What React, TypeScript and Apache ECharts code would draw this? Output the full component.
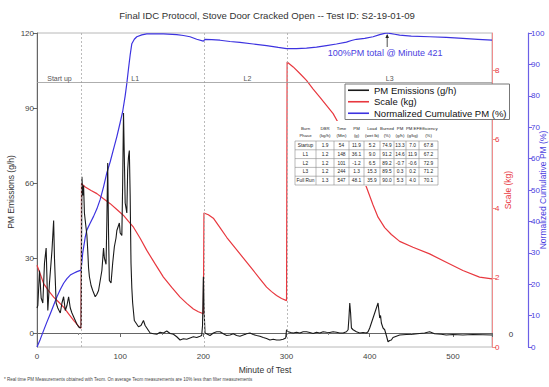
import React, { useEffect, useRef } from "react";
import * as echarts from "echarts";

const FONT = "'Liberation Sans', Arial, sans-serif";

const titleText = "Final IDC Protocol, Stove Door Cracked Open -- Test ID: S2-19-01-09";
const xAxisName = "Minute of Test";
const leftAxisName = "PM Emissions (g/h)";
const redAxisName = "Scale (kg)";
const blueAxisName = "Normalized Cumulative PM (%)";
const footnote =
  "* Real time PM Measurements obtained with Teom. On average Teom measurements are 10% less than filter measurements";
const annotationText = "100%PM total @ Minute 421";
const annotationPoint = [421, 100];

const seriesNames = ["PM Emissions (g/h)", "Scale (kg)", "Normalized Cumulative PM (%)"];

// phase boundaries (minutes) and labels
const phaseBounds = [53, 201, 301];
const phaseLabels = ["Start up", "L1", "L2", "L3"];
const phaseLabelMinutes = [27, 118, 253, 424];
const phaseLineValue = 100.4;

// PM emissions (g/h) [minute, value]
const pmSeries = [
  [0, 10], [1, 11], [3, 25], [5, 14], [7, 12], [9, 28], [11, 34], [13, 9], [15, 20], [18, 33], [20, 45],
  [21, 30], [23, 12], [25, 10], [28, 8], [30, 12], [32, 14.5], [34, 9], [36, 11], [38, 14.5], [40, 10],
  [42, 8], [44, 6.5], [46, 5], [48, 3.5], [50, 2.5], [52, 2], [53, 2.5], [54, 62.5], [55, 55], [56, 59],
  [57, 48], [58, 45], [59, 42], [60, 39], [61, 33], [62, 26], [63, 22.5], [65, 19], [67, 17], [70, 14.5],
  [72, 15.5], [74, 17], [76, 21], [78, 25], [80, 34], [81, 30], [83, 27.5], [84, 45], [85, 68], [86, 40],
  [87, 21], [89, 20], [91, 28], [93, 34.5], [95, 38], [96, 41], [98, 43], [99, 44], [100, 40], [102, 39],
  [103, 60], [104, 88], [105, 70], [106, 52], [107, 50], [108, 48], [109, 65], [110, 70.5], [111, 73],
  [112, 55], [113, 28], [114, 18], [115, 12], [117, 5], [119, 4], [122, 2.5], [125, 3], [128, 5], [130, 3],
  [132, 2], [134, 1], [136, 0], [140, -0.3], [144, -0.5], [148, 0.3], [152, 0], [156, 0.8], [160, -0.2],
  [164, -0.5], [168, -1.5], [172, -2.8], [176, -2.3], [180, -2.5], [184, -2], [188, -1.5], [192, -1.8],
  [196, -1.3], [198, -1], [199, 3], [200, 22.5], [201, 8], [202, 0], [205, -0.5], [208, -1], [212, 0],
  [216, 0.5], [220, 0.5], [224, -0.3], [228, -1], [232, -0.8], [236, -0.3], [240, -1], [244, -1.3],
  [248, -0.8], [252, -0.3], [256, 0], [260, -0.6], [264, -1], [268, -1.3], [272, -1.8], [276, -2.2],
  [280, -2.8], [284, -2.5], [288, -2.8], [292, -2.8], [296, -2.5], [299, -2], [300, 1.3], [302, 0.5],
  [305, 0.2], [308, 0], [312, 0.3], [316, 0], [320, 0.5], [324, 0.5], [328, 0.2], [332, -0.2], [336, 0.3],
  [340, 0], [344, 0.5], [348, 0.3], [352, 0.2], [356, 0.5], [360, 0.3], [364, 0], [368, 0], [372, 0.5],
  [374, 1.3], [375, 6], [376, 12], [377, 8], [378, 2], [380, 1.3], [384, 0.5], [388, 0], [392, 0.2],
  [396, 0], [398, 0.5], [400, 2], [402, 4], [404, 6], [406, 8], [408, 10], [410, 12], [411, 9], [412, 6],
  [413, 7], [414, 4], [416, 2], [418, 1.3], [420, -1], [422, -3.5], [424, -3], [426, -2.8], [428, -1.8],
  [432, -1.3], [436, -0.8], [444, -0.6], [452, -0.5], [460, -0.2], [466, 0], [472, 0.5], [478, -0.3],
  [486, -0.5], [492, -0.8], [500, -0.6], [512, -0.8], [524, -0.6], [536, -0.7], [547, -0.8],
];

// Scale (kg) [minute, value]
const scaleSeries = [
  [0, 2.36], [4, 2.1], [8, 1.83], [14, 1.62], [20, 1.44], [26, 1.3], [32, 1.15], [38, 0.96], [44, 0.77],
  [48, 0.66], [51, 0.57], [53, 0.55], [53.5, 4.72], [58, 4.62], [65, 4.52], [72, 4.43], [80, 4.28],
  [88, 4.14], [96, 3.97], [104, 3.8], [110, 3.63], [116, 3.46], [124, 3.14], [132, 2.79], [142, 2.4],
  [152, 2.02], [162, 1.72], [172, 1.44], [180, 1.26], [188, 1.1], [194, 1.02], [200, 0.96], [200.7, 3.87],
  [206, 3.82], [212, 3.72], [220, 3.45], [228, 3.17], [236, 2.93], [244, 2.69], [252, 2.45], [260, 2.21],
  [268, 1.97], [276, 1.73], [282, 1.6], [288, 1.49], [294, 1.4], [300, 1.34], [300.7, 8.23], [308, 8.09],
  [316, 7.9], [324, 7.7], [332, 7.45], [340, 7.22], [348, 6.98], [356, 6.74], [364, 6.4], [372, 6.0],
  [380, 5.5], [388, 5.05], [396, 4.62], [404, 4.1], [410, 3.75], [418, 3.45], [426, 3.25], [436, 3.05],
  [452, 2.88], [472, 2.69], [492, 2.45], [512, 2.21], [532, 2.02], [547, 1.97],
];

// Normalized cumulative PM (%) [minute, value]
const cumSeries = [
  [0, 0], [4, 2.5], [8, 5.3], [12, 8], [16, 10.6], [20, 13.3], [24, 16], [28, 18.3], [32, 20.3], [36, 21.8],
  [40, 22.9], [44, 23.5], [48, 24], [53, 24.5], [55, 30], [58, 35], [60, 37.3], [64, 39.5], [68, 41.6],
  [72, 44], [76, 47], [80, 51], [84, 55.5], [88, 59], [92, 63], [96, 67], [100, 71.5], [103, 75], [106, 80],
  [108, 84], [110, 88.6], [112, 93], [114, 96.6], [117, 98], [120, 98.8], [126, 99.4], [132, 99.7],
  [152, 99.7], [168, 99.5], [176, 99.2], [184, 98.8], [192, 98], [200, 97.4], [202, 98], [210, 97.9],
  [220, 97.7], [232, 97.3], [244, 97], [260, 96.5], [276, 96], [290, 95.4], [300, 95], [312, 95],
  [324, 95.2], [336, 95.5], [348, 96], [360, 96.5], [372, 97.1], [378, 97.6], [384, 98], [394, 98.3],
  [404, 98.8], [412, 99.5], [418, 99.9], [421, 100], [424, 99.9], [430, 99.6], [436, 99.3], [450, 99],
  [472, 98.8], [492, 98.6], [512, 98.3], [530, 98], [547, 97.7],
];

// summary table
const tableHeaderTop = ["Burn", "DBR", "Time", "PM", "Load", "Burned", "PM", "PM EF", "Efficiency"];
const tableHeaderBottom = ["Phase", "(kg/h)", "(Min)", "(g)", "(wet lb)", "(%)", "(g/h)", "(g/kg)", "(%)"];
const tableRows = [
  ["Startup", "1.9", "54", "11.9", "5.2", "74.9", "13.3", "7.0", "67.8"],
  ["L1", "1.2", "148", "36.1", "9.0", "91.2", "14.6", "11.9", "67.2"],
  ["L2", "1.2", "101", "-1.2", "6.5", "89.2", "-0.7", "-0.6", "72.9"],
  ["L3", "1.2", "244", "1.3", "15.3", "89.5", "0.3", "0.2", "71.2"],
  ["Full Run", "1.3", "547", "48.1", "35.9", "90.0", "5.3", "4.0", "70.1"],
];

const BLACK = "#1a1a1a";
const RED = "#e8383f";
const BLUE = "#3d33e0";

function buildTable() {
  const colEdges = [295, 316, 334, 349, 364, 380, 394, 406, 419, 438];
  const rowTop = 141;
  const rowH = 8.8;
  const els: any[] = [];
  els.push({
    type: "rect",
    shape: { x: 292, y: 121, width: 148, height: rowTop + rowH * tableRows.length - 121 + 1 },
    style: { fill: "#fff" },
    z: 20,
  });
  for (let i = 0; i <= tableRows.length; i++) {
    const y = rowTop + i * rowH;
    els.push({
      type: "line",
      shape: { x1: colEdges[0], y1: y, x2: colEdges[colEdges.length - 1], y2: y },
      style: { stroke: "#8a8a8a", lineWidth: 0.6 },
      z: 21,
    });
  }
  colEdges.forEach((x) => {
    els.push({
      type: "line",
      shape: { x1: x, y1: rowTop, x2: x, y2: rowTop + rowH * tableRows.length },
      style: { stroke: "#8a8a8a", lineWidth: 0.6 },
      z: 21,
    });
  });
  const txt = (s: string, x: number, y: number, size: number) => ({
    type: "text",
    x,
    y,
    style: { text: s, fill: "#222", font: `${size}px ${FONT}`, align: "center", verticalAlign: "middle" },
    z: 22,
  });
  for (let c = 0; c < tableHeaderTop.length; c++) {
    const cx = (colEdges[c] + colEdges[c + 1]) / 2;
    els.push(txt(tableHeaderTop[c], cx, 128, 4.3));
    els.push(txt(tableHeaderBottom[c], cx, 135.5, 4.3));
    tableRows.forEach((row, r) => {
      els.push(txt(row[c], cx, rowTop + r * rowH + rowH / 2, 4.8));
    });
  }
  return els;
}

export default function App() {
  const ref = useRef<HTMLDivElement>(null);
  useEffect(() => {
    const chart = echarts.init(ref.current!, null, { renderer: "svg" });
    const axisLabel = { fontSize: 8, color: "#444", fontFamily: FONT };
    const option: any = {
      animation: false,
      backgroundColor: "#fff",
      textStyle: { fontFamily: FONT },
      grid: {
        left: 37,
        top: 33,
        right: 57,
        bottom: 40,
        show: true,
        borderColor: "#b8b8b8",
        borderWidth: 1,
        containLabel: false,
      },
      legend: {
        left: 345,
        top: 84,
        orient: "vertical",
        backgroundColor: "#fff",
        borderColor: "#777",
        borderWidth: 1,
        padding: [1, 3, 1, 3],
        itemGap: 1,
        itemWidth: 21,
        itemHeight: 1.6,
        icon: "rect",
        z: 10,
        textStyle: { fontSize: 9.5, color: "#111", fontFamily: FONT, lineHeight: 10.5 },
        data: seriesNames,
      },
      xAxis: {
        type: "value",
        min: 0,
        max: 547,
        interval: 100,
        axisLine: { show: true, lineStyle: { color: "#666", width: 1 } },
        axisTick: { show: true, length: 4, lineStyle: { color: "#666" } },
        minorTick: { show: true, splitNumber: 2, length: 2, lineStyle: { color: "#888" } },
        axisLabel: { ...axisLabel, showMaxLabel: false, margin: 5 },
        splitLine: { show: false },
      },
      yAxis: [
        {
          type: "value",
          position: "left",
          min: -5.6,
          max: 120,
          splitNumber: 4,
          axisLine: { show: true, lineStyle: { color: "#666", width: 1 } },
          axisTick: { show: true, length: 4, lineStyle: { color: "#666" } },
          axisLabel: { ...axisLabel, showMinLabel: false, margin: 3 },
          splitLine: { show: false },
        },
        {
          type: "value",
          position: "right",
          min: 0,
          max: 9.07,
          splitNumber: 4,
          axisLine: { show: true, lineStyle: { color: "#f08d8d", width: 1 } },
          axisTick: { show: true, length: 4, lineStyle: { color: "#f08d8d" } },
          axisLabel: { ...axisLabel, color: RED, showMaxLabel: false, margin: 3 },
          splitLine: { show: false },
        },
        {
          type: "value",
          position: "right",
          offset: 36,
          min: 0,
          max: 100,
          interval: 10,
          axisLine: { show: true, lineStyle: { color: "#6b60e6", width: 1.2 } },
          axisTick: { show: true, length: 4, lineStyle: { color: "#6b60e6" } },
          axisLabel: { ...axisLabel, color: "#4a40e0", margin: 3 },
          splitLine: { show: false },
        },
      ],
      series: [
        {
          name: seriesNames[0],
          type: "line",
          yAxisIndex: 0,
          data: pmSeries,
          symbol: "none",
          z: 4,
          lineStyle: { color: BLACK, width: 1.1 },
          itemStyle: { color: BLACK },
          markLine: {
            silent: true,
            symbol: "none",
            label: { show: false },
            lineStyle: { color: "#aaa", type: [2, 2], width: 0.8 },
            data: [
              ...phaseBounds.map((m) => ({ xAxis: m })),
              { yAxis: phaseLineValue, lineStyle: { color: "#999", type: "solid", width: 0.8 } },
            ],
          },
        },
        {
          name: seriesNames[1],
          type: "line",
          yAxisIndex: 1,
          data: scaleSeries,
          symbol: "none",
          z: 3,
          lineStyle: { color: RED, width: 1.2 },
          itemStyle: { color: RED },
        },
        {
          name: seriesNames[2],
          type: "line",
          yAxisIndex: 2,
          data: cumSeries,
          symbol: "none",
          z: 3,
          lineStyle: { color: BLUE, width: 1.2 },
          itemStyle: { color: BLUE },
        },
      ],
    };
    chart.setOption(option);

    const peak = chart.convertToPixel({ seriesIndex: 2 }, annotationPoint) as number[];
    const phaseY = (chart.convertToPixel({ seriesIndex: 0 }, [0, phaseLineValue]) as number[])[1];
    const phaseEls = phaseLabels.map((lab, i) => {
      const px = chart.convertToPixel({ seriesIndex: 0 }, [phaseLabelMinutes[i], phaseLineValue]) as number[];
      return {
        type: "text",
        x: px[0],
        y: phaseY - 4,
        style: { text: lab, fill: "#555", font: `7px ${FONT}`, align: "center", verticalAlign: "middle" },
        z: 5,
      };
    });

    const graphic: any[] = [
      {
        type: "text",
        x: 267,
        y: 15,
        style: { text: titleText, fill: "#333", font: `9.6px ${FONT}`, align: "center", verticalAlign: "middle" },
      },
      {
        type: "text",
        x: 265,
        y: 370,
        style: { text: xAxisName, fill: "#333", font: `8.5px ${FONT}`, align: "center", verticalAlign: "middle" },
      },
      {
        type: "text",
        x: 11,
        y: 192,
        rotation: Math.PI / 2,
        style: { text: leftAxisName, fill: "#333", font: `8.5px ${FONT}`, align: "center", verticalAlign: "middle" },
      },
      {
        type: "text",
        x: 508,
        y: 190,
        rotation: Math.PI / 2,
        style: { text: redAxisName, fill: RED, font: `8.5px ${FONT}`, align: "center", verticalAlign: "middle" },
      },
      {
        type: "text",
        x: 543,
        y: 190,
        rotation: Math.PI / 2,
        style: { text: blueAxisName, fill: "#4a40e0", font: `8.5px ${FONT}`, align: "center", verticalAlign: "middle" },
      },
      {
        type: "text",
        x: 511,
        y: 334,
        style: { text: "0", fill: "#333", font: `8px ${FONT}`, align: "center", verticalAlign: "middle" },
      },
      {
        type: "text",
        x: 4,
        y: 379,
        style: { text: footnote, fill: "#444", font: `4.5px ${FONT}`, align: "left", verticalAlign: "middle" },
      },
      {
        type: "text",
        x: peak[0] - 2,
        y: peak[1] + 20,
        style: { text: annotationText, fill: "#4a40e0", font: `9px ${FONT}`, align: "center", verticalAlign: "middle" },
        z: 6,
      },
      {
        type: "line",
        shape: { x1: peak[0], y1: peak[1] + 14, x2: peak[0], y2: peak[1] + 2 },
        style: { stroke: "#222", lineWidth: 0.8 },
        z: 6,
      },
      {
        type: "polygon",
        shape: { points: [[peak[0] - 1.8, peak[1] + 5], [peak[0] + 1.8, peak[1] + 5], [peak[0], peak[1] + 1]] },
        style: { fill: "#222" },
        z: 6,
      },
      ...phaseEls,
      ...buildTable(),
    ];
    chart.setOption({ graphic });
    return () => chart.dispose();
  }, []);
  return (
    <div
      ref={ref}
      style={{ position: "fixed", left: 0, top: 0, width: 549, height: 387, background: "#fff" }}
    />
  );
}
